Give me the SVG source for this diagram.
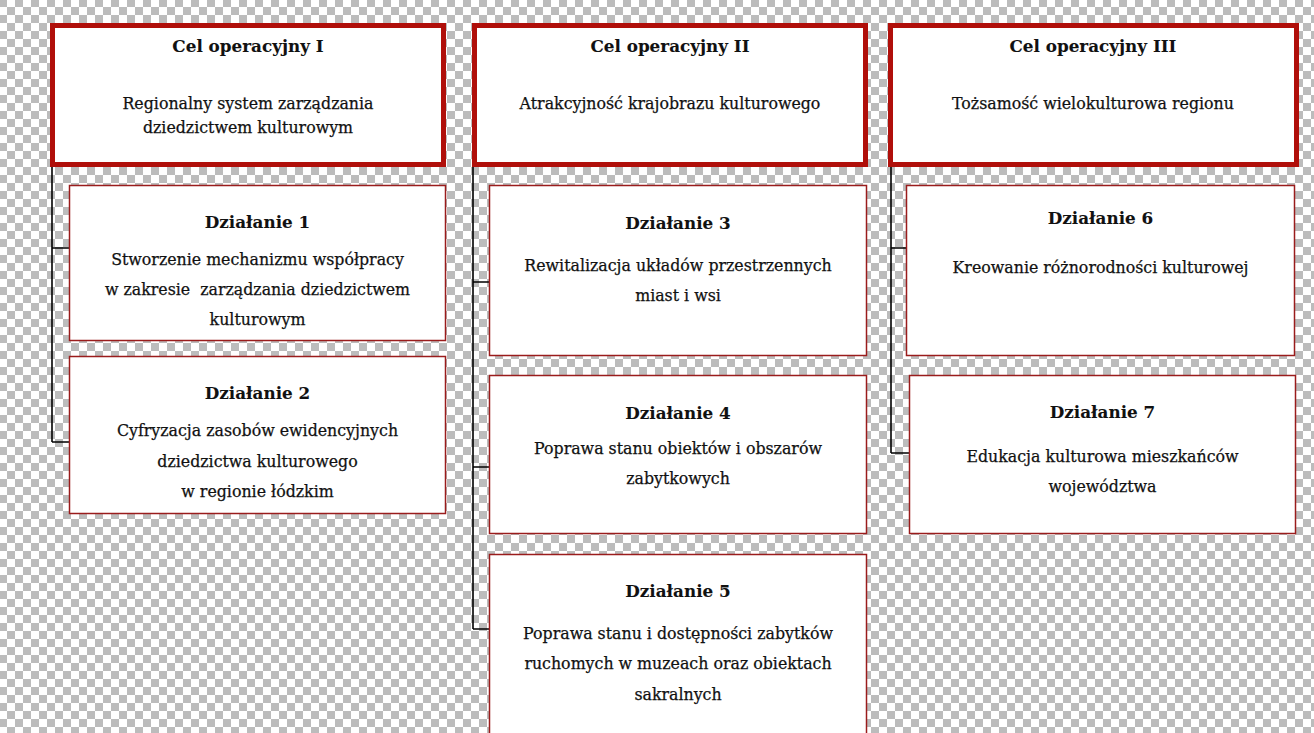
<svg xmlns="http://www.w3.org/2000/svg" width="1314" height="733" viewBox="0 0 1314 733">
<defs>
<pattern id="chk" x="7" y="7" width="16" height="16" patternUnits="userSpaceOnUse">
<rect width="16" height="16" fill="#ffffff"/>
<rect x="0" y="0" width="8" height="8" fill="#bcbcbc"/>
<rect x="8" y="8" width="8" height="8" fill="#bcbcbc"/>
</pattern>
<style>
.cel{fill:#ffffff;stroke:#b00f0a;stroke-width:5}
.act{fill:#ffffff;stroke:#9a1c1c;stroke-width:1.5}
.con{fill:none;stroke:#000000;stroke-width:1.6}
text{font-family:"DejaVu Serif","Liberation Serif",serif;font-size:15.8px;fill:#111111;stroke:#111111;stroke-width:0.25;text-anchor:middle}
.t{font-weight:bold;font-size:16.8px;stroke-width:0.1}
</style>
</defs>
<rect width="1314" height="733" fill="url(#chk)"/>
<g id="connectors">
<path class="con" d="M52,167 V442 M52,248 H69 M52,442 H69"/>
<path class="con" d="M473,167 V629 M473,282 H489 M473,467 H489 M473,629 H489"/>
<path class="con" d="M891,167 V453 M891,248 H906 M891,453 H909"/>
</g>
<g id="cel1">
<rect class="cel" x="52.5" y="25.5" width="391" height="139"/>
<text class="t" x="248" y="52">Cel operacyjny I</text>
<text x="248" y="109">Regionalny system zarządzania</text>
<text x="248" y="133">dziedzictwem kulturowym</text>
</g>
<g id="cel2">
<rect class="cel" x="474.5" y="25.5" width="391" height="139"/>
<text class="t" x="670" y="52">Cel operacyjny II</text>
<text x="670" y="109">Atrakcyjność krajobrazu kulturowego</text>
</g>
<g id="cel3">
<rect class="cel" x="890.5" y="25.5" width="406" height="139"/>
<text class="t" x="1093" y="52">Cel operacyjny III</text>
<text x="1093" y="109">Tożsamość wielokulturowa regionu</text>
</g>
<g id="d1">
<rect class="act" x="69.5" y="185.5" width="376" height="155"/>
<text class="t" x="257.5" y="228">Działanie 1</text>
<text x="257.5" y="265">Stworzenie mechanizmu współpracy</text>
<text x="257.5" y="295">w zakresie&#160; zarządzania dziedzictwem</text>
<text x="257.5" y="325">kulturowym</text>
</g>
<g id="d2">
<rect class="act" x="69.5" y="356.5" width="376" height="157"/>
<text class="t" x="257.5" y="399">Działanie 2</text>
<text x="257.5" y="436">Cyfryzacja zasobów ewidencyjnych</text>
<text x="257.5" y="467">dziedzictwa kulturowego</text>
<text x="257.5" y="497">w regionie łódzkim</text>
</g>
<g id="d3">
<rect class="act" x="489.5" y="185.5" width="377" height="170"/>
<text class="t" x="678" y="229">Działanie 3</text>
<text x="678" y="271">Rewitalizacja układów przestrzennych</text>
<text x="678" y="301">miast i wsi</text>
</g>
<g id="d4">
<rect class="act" x="489.5" y="375.5" width="377" height="158"/>
<text class="t" x="678" y="419">Działanie 4</text>
<text x="678" y="454">Poprawa stanu obiektów i obszarów</text>
<text x="678" y="484">zabytkowych</text>
</g>
<g id="d5">
<rect class="act" x="489.5" y="554.5" width="377" height="190"/>
<text class="t" x="678" y="597">Działanie 5</text>
<text x="678" y="639">Poprawa stanu i dostępności zabytków</text>
<text x="678" y="669">ruchomych w muzeach oraz obiektach</text>
<text x="678" y="700">sakralnych</text>
</g>
<g id="d6">
<rect class="act" x="906.5" y="185.5" width="388" height="170"/>
<text class="t" x="1100.5" y="224">Działanie 6</text>
<text x="1100.5" y="273">Kreowanie różnorodności kulturowej</text>
</g>
<g id="d7">
<rect class="act" x="909.5" y="375.5" width="386" height="158"/>
<text class="t" x="1102.5" y="418">Działanie 7</text>
<text x="1102.5" y="462">Edukacja kulturowa mieszkańców</text>
<text x="1102.5" y="492">województwa</text>
</g>
</svg>
